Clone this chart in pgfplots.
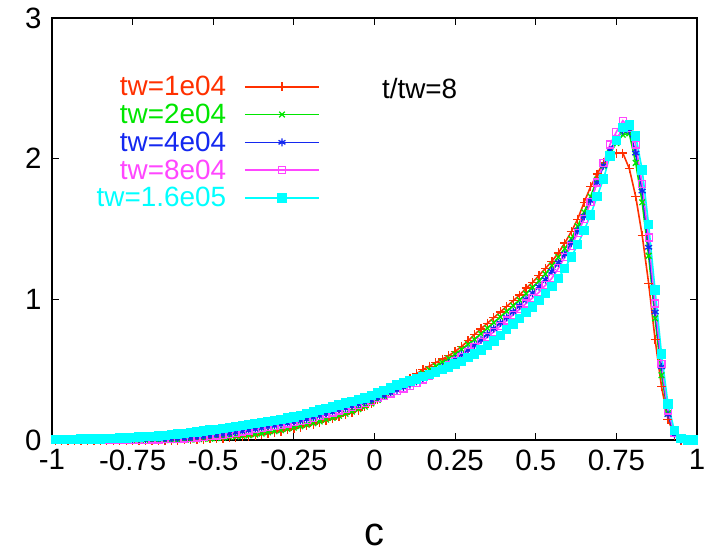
\documentclass[border=0pt]{standalone}
\usepackage{fontspec}
\setmainfont{Liberation Sans}
\usepackage{pgfplots}
\pgfplotsset{compat=1.18}
\usepackage{pgfplotstable}
\definecolor{cred}{RGB}{255,48,0}
\definecolor{cgreen}{RGB}{0,230,0}
\definecolor{cblue}{RGB}{20,40,240}
\definecolor{cpink}{RGB}{255,70,255}
\definecolor{ccyan}{RGB}{0,255,255}

\pgfplotstableread{
c r g b m cy
-0.99 0 0 0.001 0.001 0.004
-0.97 0 0 0.001 0.001 0.004
-0.95 0 0 0.001 0.001 0.005
-0.93 0 0 0.001 0.001 0.005
-0.91 0 0 0.001 0.001 0.006
-0.89 0 0 0.001 0.001 0.006
-0.87 0 0 0.001 0.001 0.007
-0.85 0 0 0.001 0.001 0.008
-0.83 0 0 0.001 0.001 0.009
-0.81 0 0 0.001 0.001 0.011
-0.79 0 0 0.001 0.001 0.013
-0.77 0 0 0.001 0.001 0.015
-0.75 0 0 0.001 0.001 0.018
-0.73 0 0 0.002 0.002 0.020
-0.71 0 0 0.002 0.002 0.023
-0.69 0 0 0.003 0.003 0.026
-0.67 0 0 0.004 0.004 0.029
-0.65 0 0 0.005 0.005 0.033
-0.63 0 0 0.007 0.007 0.037
-0.61 0 0.001 0.009 0.009 0.042
-0.59 0.002 0.002 0.011 0.011 0.047
-0.57 0.003 0.003 0.014 0.014 0.052
-0.55 0.004 0.005 0.018 0.018 0.058
-0.53 0.006 0.007 0.022 0.022 0.064
-0.51 0.008 0.010 0.027 0.027 0.070
-0.49 0.011 0.013 0.032 0.032 0.076
-0.47 0.014 0.016 0.038 0.038 0.082
-0.45 0.017 0.020 0.045 0.045 0.089
-0.43 0.020 0.024 0.052 0.052 0.096
-0.41 0.023 0.028 0.060 0.060 0.103
-0.39 0.027 0.033 0.068 0.068 0.111
-0.37 0.033 0.039 0.076 0.076 0.119
-0.35 0.040 0.046 0.084 0.084 0.126
-0.33 0.048 0.054 0.092 0.092 0.133
-0.31 0.055 0.062 0.100 0.100 0.139
-0.29 0.063 0.070 0.108 0.108 0.146
-0.27 0.072 0.079 0.117 0.117 0.155
-0.25 0.080 0.088 0.126 0.126 0.164
-0.23 0.090 0.098 0.135 0.135 0.175
-0.21 0.100 0.108 0.146 0.145 0.188
-0.19 0.113 0.120 0.158 0.157 0.200
-0.17 0.125 0.132 0.171 0.170 0.212
-0.15 0.138 0.145 0.184 0.183 0.224
-0.13 0.150 0.158 0.197 0.196 0.236
-0.11 0.165 0.172 0.211 0.210 0.249
-0.09 0.180 0.187 0.224 0.223 0.262
-0.07 0.195 0.202 0.238 0.236 0.275
-0.05 0.213 0.219 0.252 0.250 0.287
-0.03 0.235 0.238 0.266 0.264 0.300
-0.01 0.260 0.260 0.281 0.280 0.315
0.01 0.290 0.285 0.297 0.296 0.334
0.03 0.320 0.310 0.315 0.313 0.352
0.05 0.350 0.338 0.334 0.330 0.371
0.07 0.380 0.365 0.354 0.348 0.390
0.09 0.410 0.393 0.374 0.366 0.405
0.11 0.440 0.420 0.394 0.383 0.420
0.13 0.470 0.447 0.416 0.406 0.435
0.15 0.500 0.473 0.440 0.430 0.450
0.17 0.525 0.500 0.465 0.455 0.465
0.19 0.550 0.525 0.490 0.480 0.482
0.21 0.575 0.552 0.518 0.505 0.500
0.23 0.600 0.580 0.546 0.530 0.520
0.25 0.630 0.610 0.575 0.560 0.540
0.27 0.665 0.645 0.607 0.590 0.560
0.29 0.705 0.680 0.640 0.625 0.585
0.31 0.750 0.715 0.675 0.660 0.610
0.33 0.790 0.755 0.712 0.695 0.640
0.35 0.830 0.795 0.752 0.730 0.670
0.37 0.870 0.835 0.792 0.770 0.705
0.39 0.910 0.875 0.832 0.810 0.745
0.41 0.950 0.915 0.872 0.850 0.785
0.43 0.990 0.955 0.912 0.890 0.825
0.45 1.030 0.995 0.955 0.930 0.865
0.47 1.080 1.040 1.000 0.970 0.905
0.49 1.120 1.085 1.045 1.010 0.945
0.51 1.170 1.130 1.090 1.050 0.990
0.53 1.220 1.180 1.140 1.100 1.040
0.55 1.270 1.240 1.200 1.150 1.090
0.57 1.330 1.300 1.260 1.220 1.150
0.59 1.400 1.360 1.320 1.300 1.220
0.61 1.480 1.430 1.400 1.380 1.300
0.63 1.570 1.520 1.490 1.470 1.390
0.65 1.690 1.620 1.590 1.570 1.490
0.67 1.800 1.730 1.700 1.690 1.600
0.69 1.890 1.850 1.830 1.830 1.730
0.71 1.970 1.950 1.950 1.970 1.855
0.73 2.020 2.040 2.060 2.100 2.020
0.75 2.040 2.110 2.140 2.190 2.130
0.77 2.040 2.170 2.200 2.270 2.220
0.79 1.930 2.180 2.200 2.220 2.240
0.81 1.730 1.970 2.040 2.100 2.160
0.83 1.455 1.690 1.770 1.820 1.920
0.85 1.115 1.310 1.370 1.440 1.530
0.87 0.716 0.865 0.910 0.970 1.065
0.89 0.378 0.460 0.520 0.540 0.610
0.91 0.147 0.190 0.180 0.210 0.255
0.93 0.035 0.045 0.040 0.050 0.066
0.95 0.000 0.005 0.003 0.005 0.010
0.97 0 0 0 0 0
0.99 0 0 0 0 0
}\data

\begin{document}
\begin{tikzpicture}
\path[use as bounding box] (-52bp,-114bp) rectangle (653bp,440bp);
\begin{axis}[
  scale only axis, width=645bp, height=422bp,
  xmin=-1, xmax=1, ymin=0, ymax=3,
  xtick={-1,-0.75,-0.5,-0.25,0,0.25,0.5,0.75,1},
  xticklabels={-1,-0.75,-0.5,-0.25,0,0.25,0.5,0.75,1},
  ytick={0,1,2,3}, yticklabels={0,1,2,3},
  tick align=inside, major tick length=7bp,
  tick style={black, line width=1bp},
  axis line style={line width=1.2bp},
  tick label style={font=\fontsize{29.5}{32}\selectfont},
  xticklabel shift=6bp, yticklabel shift=7bp,
  xlabel={c},
  xlabel style={font=\fontsize{40}{44}\selectfont, at={(axis description cs:0.5,0)}, anchor=center, inner sep=1bp, yshift=-95bp},
  legend plot pos=right, legend cell align=right,
  legend style={draw=none, fill=none, at={(axis description cs:0.4155,0.867)}, anchor=north east,
    font=\fontsize{28}{30}\selectfont, row sep=2.8bp, inner sep=0pt, column sep=16bp},
  legend image code/.code={\draw[mark repeat=2,mark phase=2] plot coordinates {(0bp,0bp) (37bp,0bp) (74bp,0bp)};},
  every axis plot/.append style={line width=1.6bp},
]
\addplot[color=cred, mark=+, mark size=4.5bp, mark options={line width=1.3bp}] table[x=c,y=r]{\data};
\addlegendentry{\textcolor{cred}{tw=1e04}}
\addplot[color=cgreen, mark=x, mark size=4bp, mark options={line width=1.3bp}] table[x=c,y=g]{\data};
\addlegendentry{\textcolor{cgreen}{tw=2e04}}
\addplot[color=cblue, mark=asterisk, mark size=4bp, mark options={line width=1.3bp}] table[x=c,y=b]{\data};
\addlegendentry{\textcolor{cblue}{tw=4e04}}
\addplot[color=cpink, mark=square, mark size=3.5bp, mark options={line width=1.2bp}] table[x=c,y=m]{\data};
\addlegendentry{\textcolor{cpink}{tw=8e04}}
\addplot[color=ccyan, mark=square*, mark size=3.9bp, mark options={fill=ccyan}] table[x=c,y=cy]{\data};
\addlegendentry{\textcolor{ccyan}{tw=1.6e05}}
\node[font=\fontsize{28}{30}\selectfont, anchor=center] at (axis cs:0.14,2.5) {t/tw=8};
\end{axis}
\end{tikzpicture}
\end{document}
